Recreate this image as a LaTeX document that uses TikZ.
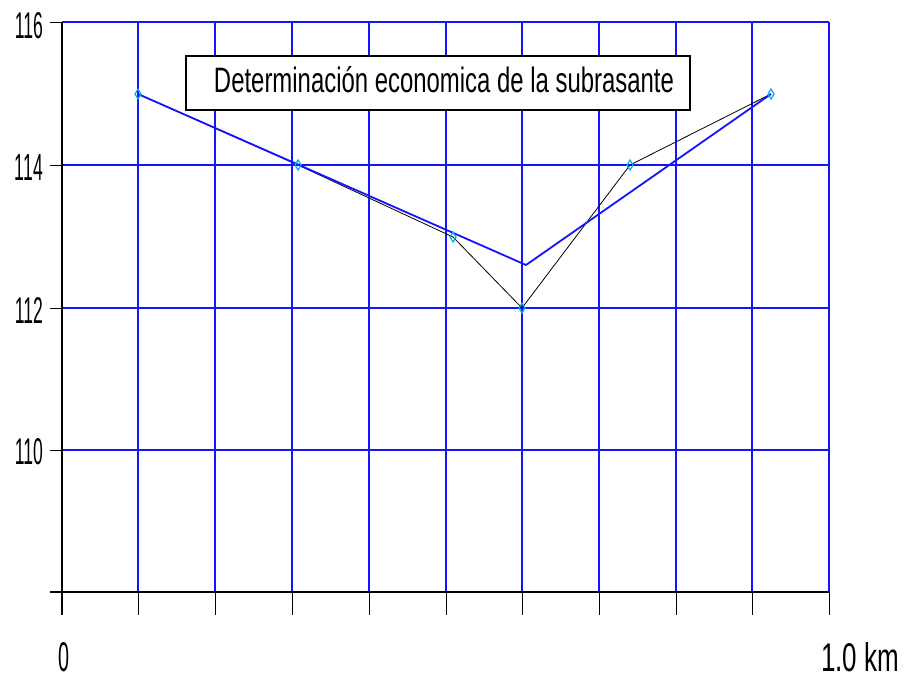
\documentclass[tikz,border=0pt]{standalone}
\usepackage{fontspec}
\setmainfont{Liberation Sans}
\begin{document}
\begin{tikzpicture}[x=1pt,y=-1pt,
  gridline/.style={draw={rgb,255:red,20;green,20;blue,255}, line width=1.6pt},
  axisline/.style={black, line width=1.4pt},
  tickline/.style={black, line width=1pt},
  profile/.style={black, line width=0.8pt},
  subr/.style={draw={rgb,255:red,20;green,20;blue,255}, line width=1.8pt},
  lbl/.style={inner sep=0pt, outer sep=0pt},
  mk/.style={cyan, line width=1.2pt},
  titlebox/.style={draw=black, line width=1.2pt, fill=white, minimum width=504pt, minimum height=54pt, inner sep=0pt}]
\useasboundingbox (0,0) rectangle (909,681);
\fill[white] (0,0) rectangle (909,681);
% grid
\foreach \x in {138,215,292,369,446,522,599,676,752,829} \draw[gridline] (\x,22) -- (\x,592);
\foreach \y in {22,165,308,450} \draw[gridline] (62,\y) -- (829,\y);
% axes
\draw[axisline] (62,22) -- (62,615);
\draw[axisline] (50,592) -- (829,592);
\foreach \x in {138,215,292,369,446,522,599,676,752,829} \draw[tickline] (\x,592) -- (\x,615);
\foreach \y in {22,165,308,450} \draw[tickline] (50,\y) -- (62,\y);
% labels
\node[lbl] (l116) at (29,26) {\resizebox{28pt}{26pt}{116}};
\node[lbl] (l114) at (29,167) {\resizebox{28pt}{26pt}{114}};
\node[lbl] (l112) at (29,310) {\resizebox{28pt}{26pt}{112}};
\node[lbl] (l110) at (29,452) {\resizebox{28pt}{26pt}{110}};
\node[lbl] (l0) at (63.5,657) {\resizebox{11pt}{29pt}{0}};
\node[lbl] (lkm) at (860,657) {\resizebox{78pt}{29pt}{1.0 km}};
% title
\node[titlebox] (title) at (438,83) {};
\node[lbl] (ttext) at (444,80) {\resizebox{460pt}{26pt}{Determinación economica de la subrasante}};
% points
\coordinate (p1) at (138,94);
\coordinate (p2) at (298,165);
\coordinate (p3) at (453,237);
\coordinate (p4) at (522,308);
\coordinate (p5) at (630,165);
\coordinate (p6) at (771,94);
\coordinate (v) at (526,265);
% terrain profile
\draw[profile] (p1) -- (p2) -- (p3) -- (p4) -- (p5) -- (p6);
% subrasante
\draw[subr, line join=round] (p1) -- (v) -- (p6);
% markers
\foreach \p in {p1,p2,p3,p4,p5,p6}
  \draw[mk] (\p) +(0,-5) -- +(3,0) -- +(0,5) -- +(-3,0) -- cycle;
\end{tikzpicture}
\end{document}
